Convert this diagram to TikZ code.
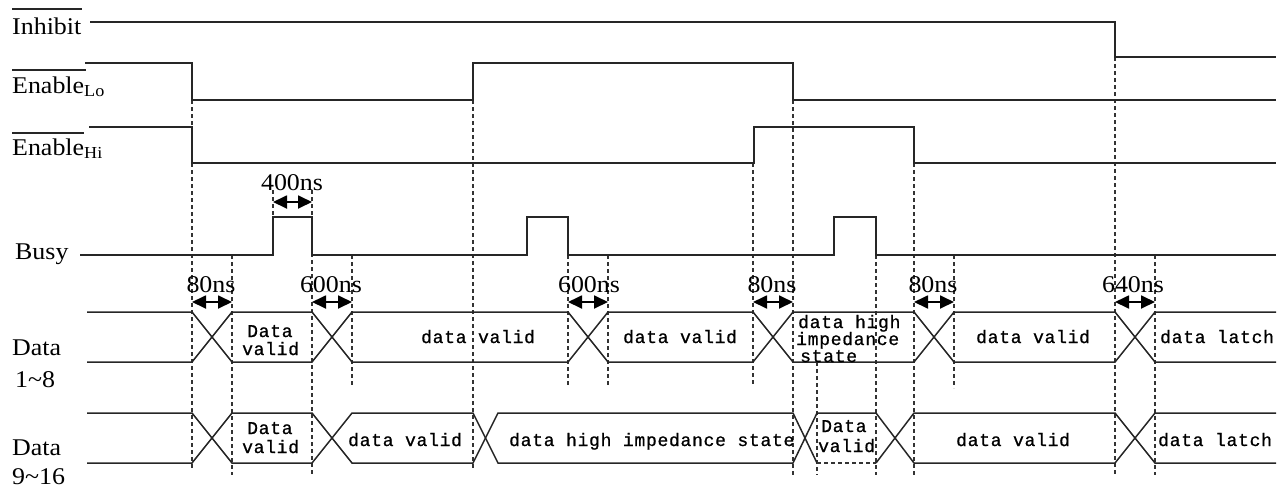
\documentclass[tikz,border=0pt]{standalone}
\usepackage{fontspec}
\setmainfont{Liberation Serif}
\newfontfamily\lblf[FakeStretch=1.08]{Liberation Serif}
\newfontfamily\monof[LetterSpace=4,FakeBold=0.8]{Liberation Mono}
\usetikzlibrary{arrows.meta}
\begin{document}
\begin{tikzpicture}[x=1pt,y=-1pt,
  sig/.style={line width=1.5pt, black!85},
  guide/.style={line width=1.2pt, black!80, dash pattern=on 4pt off 3pt},
  lbl/.style={font=\lblf\fontsize{24}{26}\selectfont, inner sep=0pt, anchor=base west},
  tlbl/.style={font=\lblf\fontsize{24}{24}\selectfont, inner sep=0pt, anchor=base},
  dlbl/.style={font=\monof\fontsize{18}{18}\selectfont, inner sep=0pt, anchor=base west},
  dimarrow/.style={line width=1.8pt, {Triangle[length=14pt,width=13pt]}-{Triangle[length=14pt,width=13pt]}}
]
\useasboundingbox (0,0) rectangle (1285,488);

% left labels
\node[lbl] (inh) at (12,34) {Inhibit};
\draw[sig] (12,9) -- (82,9);
\node[lbl] (enlo) at (12,93) {Enable\textsubscript{Lo}};
\draw[sig] (12,70) -- (86,70);
\node[lbl] (enhi) at (12,155) {Enable\textsubscript{Hi}};
\draw[sig] (12,133) -- (84,133);
\node[lbl] (busy) at (15,259) {Busy};
\node[lbl] (d1a) at (12,355) {Data};
\node[lbl] (d1b) at (15,387) {1\textasciitilde 8};
\node[lbl] (d2a) at (12,455) {Data};
\node[lbl] (d2b) at (12,484) {9\textasciitilde 16};

% guides
\draw[guide] (192,100) -- (192,470);
\draw[guide] (232,255) -- (232,475);
\draw[guide] (273,190) -- (273,217);
\draw[guide] (312,190) -- (312,475);
\draw[guide] (352,255) -- (352,385);
\draw[guide] (473,100) -- (473,470);
\draw[guide] (568,255) -- (568,385);
\draw[guide] (608,255) -- (608,385);
\draw[guide] (753,163) -- (753,385);
\draw[guide] (793,100) -- (793,475);
\draw[guide] (817,362) -- (817,475);
\draw[guide] (876,255) -- (876,475);
\draw[guide] (914,163) -- (914,475);
\draw[guide] (954,255) -- (954,388);
\draw[guide] (1115,57) -- (1115,475);
\draw[guide] (1155,255) -- (1155,475);

% waveforms
\draw[sig] (90,22) -- (1115,22) -- (1115,57) -- (1276,57);
\draw[sig] (85,63) -- (192,63) -- (192,100) -- (473,100) -- (473,63) -- (793,63) -- (793,100) -- (1276,100);
\draw[sig] (89,127) -- (192,127) -- (192,163) -- (754,163) -- (754,127) -- (914,127) -- (914,163) -- (1276,163);
\draw[sig] (80,255) -- (273,255) -- (273,217) -- (312,217) -- (312,255) -- (527,255) -- (527,217) -- (568,217) -- (568,255)
  -- (834,255) -- (834,217) -- (876,217) -- (876,255) -- (1276,255);

% data 1~8
\draw[sig] (87,312) -- (192,312) -- (232,362) -- (312,362) -- (352,312) -- (568,312) -- (608,362) -- (753,362) -- (793,312)
  -- (914,312) -- (954,362) -- (1115,362) -- (1155,312) -- (1276,312);
\draw[sig] (87,362) -- (192,362) -- (232,312) -- (312,312) -- (352,362) -- (568,362) -- (608,312) -- (753,312) -- (793,362)
  -- (914,362) -- (954,312) -- (1115,312) -- (1155,362) -- (1276,362);

% data 9~16
\draw[sig] (87,413) -- (192,413) -- (232,463) -- (312,463) -- (352,413) -- (473,413) -- (498,463) -- (793,463) -- (817,413)
  -- (876,413) -- (914,463) -- (1115,463) -- (1155,413) -- (1276,413);
\draw[sig] (87,463) -- (192,463) -- (232,413) -- (312,413) -- (352,463) -- (473,463) -- (498,413) -- (793,413) -- (817,463);
\draw[guide] (817,463) -- (876,463);
\draw[sig] (876,463) -- (914,413) -- (1115,413) -- (1155,463) -- (1276,463);

% timing labels
\node[tlbl] (t400) at (292,190) {400ns};
\draw[dimarrow] (273,202) -- (312,202);
\node[tlbl] (t80a) at (211,292) {80ns};
\draw[dimarrow] (192,302) -- (232,302);
\node[tlbl] (t600a) at (331,292) {600ns};
\draw[dimarrow] (312,302) -- (352,302);
\node[tlbl] (t600b) at (589,292) {600ns};
\draw[dimarrow] (568,302) -- (608,302);
\node[tlbl] (t80b) at (772,292) {80ns};
\draw[dimarrow] (753,302) -- (793,302);
\node[tlbl] (t80c) at (933,292) {80ns};
\draw[dimarrow] (914,302) -- (954,302);
\node[tlbl] (t640) at (1133,292) {640ns};
\draw[dimarrow] (1115,302) -- (1155,302);

% data texts row 1
\node[dlbl] (r1a) at (247,337) {Data};
\node[dlbl] (r1b) at (242,355) {valid};
\node[dlbl] (r1c) at (421,343) {data valid};
\node[dlbl] (r1d) at (623,343) {data valid};
\node[dlbl] (r1e) at (798,328) {data high};
\node[dlbl] (r1f) at (796,345) {impedance};
\node[dlbl] (r1g) at (800,362) {state};
\node[dlbl] (r1h) at (976,343) {data valid};
\node[dlbl] (r1i) at (1160,343) {data latch};

% data texts row 2
\node[dlbl] (r2a) at (247,434) {Data};
\node[dlbl] (r2b) at (242,453) {valid};
\node[dlbl] (r2c) at (348,446) {data valid};
\node[dlbl] (r2d) at (509,446) {data high impedance state};
\node[dlbl] (r2e) at (821,432) {Data};
\node[dlbl] (r2f) at (818,452) {valid};
\node[dlbl] (r2g) at (956,446) {data valid};
\node[dlbl] (r2h) at (1158,446) {data latch};
\end{tikzpicture}
\end{document}
